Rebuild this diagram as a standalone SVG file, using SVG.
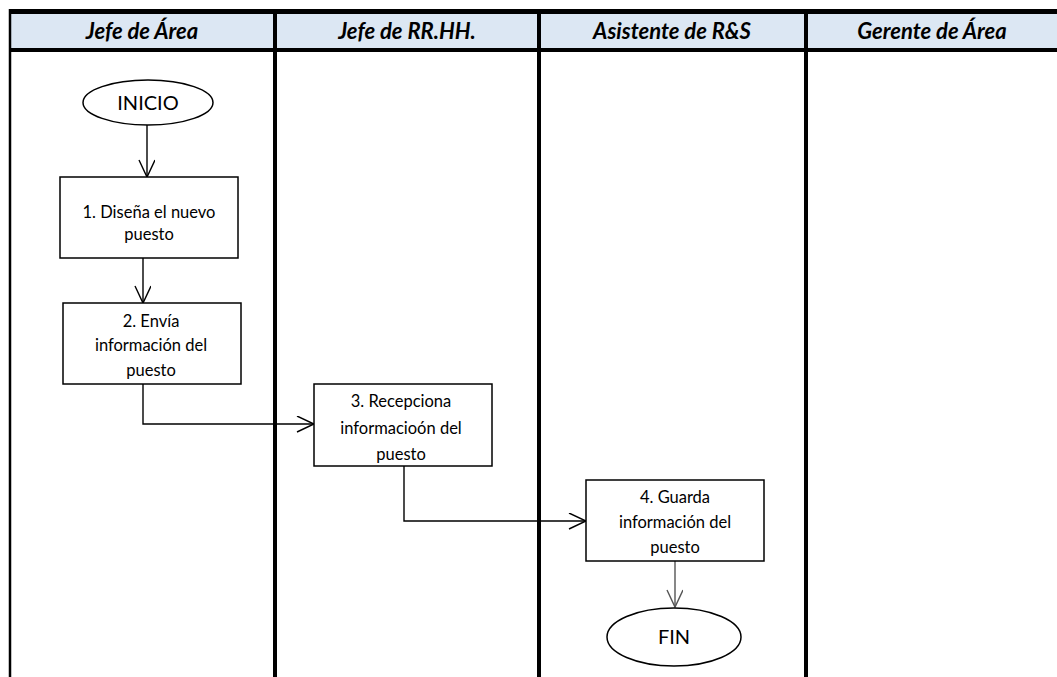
<svg xmlns="http://www.w3.org/2000/svg" width="1057" height="677" viewBox="0 0 1057 677">
  <style>
    .lane-head { font-family: Lato, "Liberation Sans", sans-serif; font-size: 22px; font-weight: bold; font-style: italic; fill: #000; text-anchor: middle; }
    .grid { stroke: #000; fill: none; }
    .box { fill: #fff; stroke: #000; stroke-width: 1.5; }
    .term { fill: #fff; stroke: #000; stroke-width: 1.5; }
    .label { font-family: Lato, "Liberation Sans", sans-serif; font-size: 16.5px; fill: #000; text-anchor: middle; }
    .term-label { font-family: Lato, "Liberation Sans", sans-serif; font-size: 20px; fill: #000; text-anchor: middle; }
    .flow { stroke: #000; stroke-width: 1.4; fill: none; }
    .flow-grey { stroke: #555; stroke-width: 1.4; fill: none; }
  </style>
  <defs>
    <marker id="open-arrow" markerWidth="20" markerHeight="20" refX="18" refY="8" orient="auto" markerUnits="userSpaceOnUse">
      <path d="M1,0 L18,8 L1,16" fill="none" stroke="#000" stroke-width="1.4"/>
    </marker>
    <marker id="open-arrow-grey" markerWidth="20" markerHeight="20" refX="18" refY="8" orient="auto" markerUnits="userSpaceOnUse">
      <path d="M1,0 L18,8 L1,16" fill="none" stroke="#555" stroke-width="1.4"/>
    </marker>
  </defs>

  <rect width="1057" height="677" fill="#fff"/>

  <!-- swimlane header and lane borders -->
  <g id="lanes">
    <rect x="10" y="11" width="1047" height="39" fill="#dce7f3"/>
    <line class="grid" x1="10" y1="11.5" x2="1057" y2="11.5" stroke-width="5"/>
    <line class="grid" x1="10" y1="50" x2="1057" y2="50" stroke-width="4"/>
    <line class="grid" x1="10" y1="9" x2="10" y2="677" stroke-width="2.5"/>
    <line class="grid" x1="275" y1="9" x2="275" y2="677" stroke-width="4"/>
    <line class="grid" x1="539" y1="9" x2="539" y2="677" stroke-width="4"/>
    <line class="grid" x1="806" y1="9" x2="806" y2="677" stroke-width="4"/>
    <text class="lane-head" x="142" y="39">Jefe de Área</text>
    <text class="lane-head" x="407" y="39">Jefe de RR.HH.</text>
    <text class="lane-head" x="672" y="39">Asistente de R&amp;S</text>
    <text class="lane-head" x="932" y="39">Gerente de Área</text>
  </g>

  <!-- connectors -->
  <g id="connectors">
    <line class="flow" x1="147" y1="125" x2="147" y2="177" marker-end="url(#open-arrow)"/>
    <line class="flow" x1="143" y1="258" x2="143" y2="303" marker-end="url(#open-arrow)"/>
    <polyline class="flow" points="143,384 143,424 314,424" marker-end="url(#open-arrow)"/>
    <polyline class="flow" points="404,466 404,521 586,521" marker-end="url(#open-arrow)"/>
    <line class="flow-grey" x1="675" y1="561" x2="675" y2="607" marker-end="url(#open-arrow-grey)"/>
  </g>

  <g id="inicio">
    <ellipse class="term" cx="148" cy="102.5" rx="65" ry="22.5"/>
    <text class="term-label" x="148" y="109.5">INICIO</text>
  </g>

  <g id="paso1">
    <rect class="box" x="60" y="177" width="178" height="81"/>
    <text class="label" x="149" y="218">1. Diseña el nuevo</text>
    <text class="label" x="149" y="240">puesto</text>
  </g>

  <g id="paso2">
    <rect class="box" x="63" y="303" width="178" height="81"/>
    <text class="label" x="151" y="327">2. Envía</text>
    <text class="label" x="151" y="351">información del</text>
    <text class="label" x="151" y="376">puesto</text>
  </g>

  <g id="paso3">
    <rect class="box" x="314" y="384" width="178" height="82"/>
    <text class="label" x="401" y="407">3. Recepciona</text>
    <text class="label" x="401" y="434">informacioón del</text>
    <text class="label" x="401" y="460">puesto</text>
  </g>

  <g id="paso4">
    <rect class="box" x="586" y="480" width="178" height="81"/>
    <text class="label" x="675" y="503">4. Guarda</text>
    <text class="label" x="675" y="528">información del</text>
    <text class="label" x="675" y="553">puesto</text>
  </g>

  <g id="fin">
    <ellipse class="term" cx="674" cy="637" rx="67" ry="29"/>
    <text class="term-label" x="674" y="644">FIN</text>
  </g>
</svg>
